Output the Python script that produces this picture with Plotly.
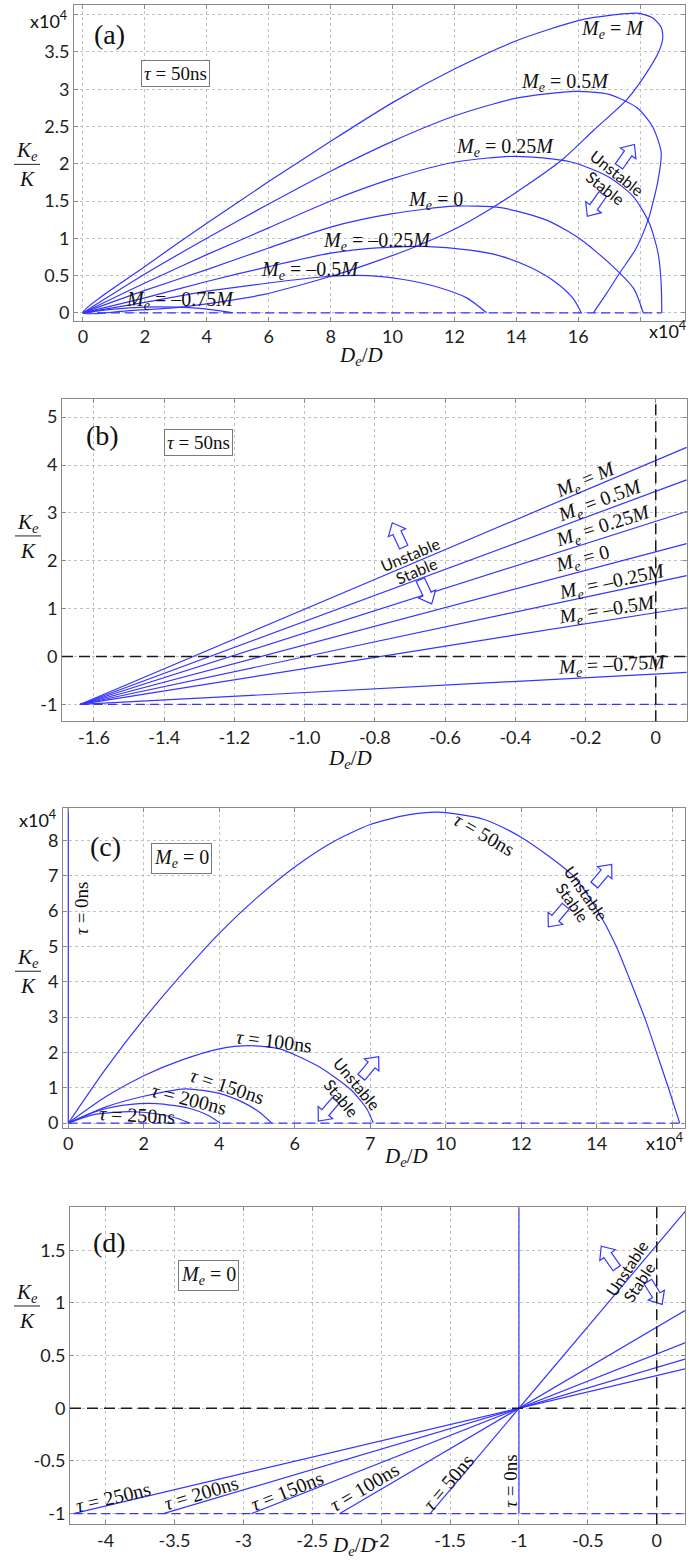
import math
import plotly.graph_objects as go

W, H = 689, 1566
BLUE = "#3535ff"
GRID = "#c2c2c2"
FRAME = "#8a8a8a"
SERIF = "Liberation Serif"
SANS = "Lato"

# ---------------- (a)  tau = 50 ns, K_e/K (x1e4) vs D_e/D (x1e4) ----------------
a_M_x = [0, 2, 4, 6, 8, 10, 12, 14, 16, 17.2, 17.9, 18.4, 18.68, 18.73,
         18.62, 18.3, 17.57, 16.5, 15.5, 14.3, 13.15, 12, 10.7, 9.4, 8.1, 7, 5.9, 4.5, 3, 1.5, 0]
a_M_y = [0, 0.62, 1.2, 1.76, 2.3, 2.82, 3.27, 3.65, 3.92, 4.0, 4.02, 3.96, 3.83, 3.68,
         3.52, 3.28, 2.86, 2.45, 2.06, 1.7, 1.39, 1.12, 0.88, 0.68, 0.5, 0.37, 0.25, 0.15, 0.07, 0.03, 0]
a_05M_x = [0, 2, 4, 6, 8, 10, 12, 14, 15.9, 17.0, 17.9, 18.4, 18.68, 18.58, 18.27, 17.85, 17.35, 16.9, 16.49]
a_05M_y = [0, 0.52, 1.0, 1.46, 1.9, 2.3, 2.64, 2.88, 2.97, 2.93, 2.75, 2.5, 2.15, 1.78, 1.26, 0.85, 0.54, 0.25, 0]
a_025M_x = [0, 2, 4, 6, 8, 10, 12, 14, 15.8, 17.0, 17.8, 18.3, 18.58, 18.68, 18.7]
a_025M_y = [0, 0.4, 0.78, 1.14, 1.5, 1.8, 2.02, 2.1, 2.02, 1.82, 1.55, 1.2, 0.8, 0.4, 0]
a_0_x = [0, 2, 4, 6, 8, 10, 12, 13.5, 15, 16.06, 17.1, 17.8, 18.1]
a_0_y = [0, 0.3, 0.58, 0.87, 1.15, 1.33, 1.43, 1.41, 1.24, 0.99, 0.63, 0.32, 0]
a_m025M_x = [0, 2, 4, 6, 8, 9.5, 11, 12.5, 13.5, 14.5, 15.3, 15.84, 16.1]
a_m025M_y = [0, 0.2, 0.42, 0.62, 0.8, 0.87, 0.89, 0.84, 0.76, 0.6, 0.4, 0.19, 0]
a_m05M_x = [0, 2, 4, 6, 8, 9.2, 10.3, 11.5, 12.4, 13.04]
a_m05M_y = [0, 0.14, 0.29, 0.4, 0.49, 0.5, 0.45, 0.34, 0.2, 0]
a_m075M_x = [0, 1, 2, 3, 4, 4.85]
a_m075M_y = [0, 0.05, 0.075, 0.075, 0.05, 0]
a_base_x = [0, 18.7]
a_base_y = [0, 0]

# ---------------- (b)  tau = 50 ns, straight boundaries ----------------
b_labels = ["<i>M</i>", "0.5<i>M</i>", "0.25<i>M</i>", "0", "–0.25<i>M</i>", "–0.5<i>M</i>", "–0.75<i>M</i>"]
b_x_start = -1.64
b_y_start = -1.0
b_x_end = 0.088
b_y_end = [4.37, 3.69, 3.03, 2.36, 1.69, 1.02, -0.33]
b_label_x = [-0.20, -0.16, -0.149, -0.21, -0.125, -0.14, -0.125]
b_label_y = [3.68, 3.24, 2.72, 2.03, 1.54, 0.96, -0.19]

# ---------------- (c)  M_e = 0, different tau ----------------
c_t50_x = [0, 1, 2, 3, 4, 5, 6, 7, 8, 9, 9.8, 11, 12, 13.4, 14.0, 14.5, 14.9, 15.3, 15.6, 15.9, 16.2]
c_t50_y = [0, 1.55, 2.94, 4.2, 5.37, 6.38, 7.25, 7.95, 8.45, 8.72, 8.8, 8.6, 8.09, 6.97, 6.05, 5.05, 4.0, 2.9, 1.95, 1.0, 0]
c_t100_x = [0, 1, 2, 3, 4, 4.8, 5.6, 6.6, 7.46, 7.9, 8.08]
c_t100_y = [0, 0.75, 1.34, 1.78, 2.1, 2.19, 2.1, 1.62, 0.97, 0.42, 0]
c_t150_x = [0, 1, 2, 3.1, 4.0, 4.6, 5.05, 5.39]
c_t150_y = [0, 0.46, 0.76, 0.97, 0.84, 0.6, 0.32, 0]
c_t200_x = [0, 0.8, 1.6, 2.34, 3.2, 3.7, 4.02]
c_t200_y = [0, 0.35, 0.52, 0.55, 0.42, 0.22, 0]
c_t250_x = [0, 0.6, 1.2, 1.72, 2.4, 2.9, 3.22]
c_t250_y = [0, 0.22, 0.3, 0.32, 0.25, 0.13, 0]
c_t0_x = [0, 0]
c_t0_y = [0, 8.92]
c_base_x = [0, 16.2]
c_base_y = [0, 0]

# ---------------- (d)  M_e = 0, straight boundaries ----------------
d_taus = ["250ns", "200ns", "150ns", "100ns", "50ns"]
d_x_start = [-4.233, -3.58, -2.94, -2.30, -1.645]
d_y_start = -1.0
d_x_end = 0.205
d_y_end = [0.373, 0.467, 0.621, 0.927, 1.867]
d_label_x = [-3.943, -3.308, -2.685, -2.124, -1.512]
d_label_y = [-0.839, -0.80, -0.787, -0.745, -0.70]

# ---------------- panel geometry (pixels on the page) ----------------
panels = {
    "a": dict(l=74, r=685, t=5, b=322, xr=[-0.29, 19.45], yr=[-0.107, 4.13]),
    "b": dict(l=62, r=687, t=401, b=724, xr=[-1.691, 0.089], yr=[-1.35, 5.37]),
    "c": dict(l=63, r=685, t=811, b=1132, xr=[-0.14, 16.34], yr=[-0.13, 8.92]),
    "d": dict(l=70, r=685, t=1212, b=1530, xr=[-4.258, 0.205], yr=[-1.10, 1.907]),
}
order = ["a", "b", "c", "d"]


def pap(xp, yp):
    return xp / W, 1 - yp / H


def px_scale(key):
    p = panels[key]
    sx = (p["r"] - p["l"]) / (p["xr"][1] - p["xr"][0])
    sy = (p["b"] - p["t"]) / (p["yr"][1] - p["yr"][0])
    return sx, sy


fig = go.Figure()


def add_line(k, xs, ys, dash="solid", color=BLUE, width=1.2, smooth=True):
    i = order.index(k) + 1
    sfx = "" if i == 1 else str(i)
    fig.add_trace(go.Scatter(
        x=xs, y=ys, mode="lines", xaxis="x" + sfx, yaxis="y" + sfx,
        line=dict(color=color, width=width, dash=dash,
                  shape="spline" if smooth else "linear", smoothing=0.7),
        showlegend=False, hoverinfo="skip"))


# (a)
for xs, ys in [(a_M_x, a_M_y), (a_05M_x, a_05M_y), (a_025M_x, a_025M_y), (a_0_x, a_0_y),
               (a_m025M_x, a_m025M_y), (a_m05M_x, a_m05M_y), (a_m075M_x, a_m075M_y)]:
    add_line("a", xs, ys)
add_line("a", a_base_x, a_base_y, dash="9px,5px", smooth=False)

# (b)
for ye in b_y_end:
    add_line("b", [b_x_start, b_x_end], [b_y_start, ye], smooth=False)
add_line("b", [b_x_start, b_x_end], [b_y_start, b_y_start], dash="9px,5px", smooth=False)

# (c)
for xs, ys in [(c_t50_x, c_t50_y), (c_t100_x, c_t100_y), (c_t150_x, c_t150_y),
               (c_t200_x, c_t200_y), (c_t250_x, c_t250_y)]:
    add_line("c", xs, ys)
add_line("c", c_t0_x, c_t0_y, smooth=False)
add_line("c", c_base_x, c_base_y, dash="9px,5px", smooth=False)

# (d)
for xs0, ye in zip(d_x_start, d_y_end):
    add_line("d", [xs0, d_x_end], [d_y_start, ye], smooth=False)
add_line("d", [-1, -1], [d_y_start, 1.907], smooth=False)
add_line("d", [d_x_start[0], d_x_end], [d_y_start, d_y_start], dash="9px,5px", smooth=False)

# ---------------- axes ----------------
ticks = {
    "a": dict(xv=[0, 2, 4, 6, 8, 10, 12, 14, 16, 18],
              xt=["0", "2", "4", "6", "8", "10", "12", "14", "16", ""],
              yv=[0, 0.5, 1, 1.5, 2, 2.5, 3, 3.5, 4],
              yt=["0", "0.5", "1", "1.5", "2", "2.5", "3", "3.5", ""]),
    "b": dict(xv=[-1.6, -1.4, -1.2, -1.0, -0.8, -0.6, -0.4, -0.2, 0],
              xt=["-1.6", "-1.4", "-1.2", "-1.0", "-0.8", "-0.6", "-0.4", "-0.2", "0"],
              yv=[-1, 0, 1, 2, 3, 4, 5],
              yt=["-1", "0", "1", "2", "3", "4", "5"]),
    "c": dict(xv=[0, 2, 4, 6, 8, 10, 12, 14, 16],
              xt=["0", "2", "4", "6", "7", "10", "12", "14", ""],
              yv=[0, 1, 2, 3, 4, 5, 6, 7, 8],
              yt=["0", "1", "2", "3", "4", "5", "6", "7", "8"]),
    "d": dict(xv=[-4, -3.5, -3, -2.5, -2, -1.5, -1, -0.5, 0],
              xt=["-4", "-3.5", "-3", "-2.5", "-2", "-1.5", "-1", "-0.5", "0"],
              yv=[-1, -0.5, 0, 0.5, 1, 1.5],
              yt=["-1", "-0.5", "0", "0.5", "1", "1.5"]),
}

layout_axes = {}
tickfont = dict(family=SANS, size=18, color="#1e1e1e")
for i, k in enumerate(order, start=1):
    p = panels[k]
    t = ticks[k]
    sfx = "" if i == 1 else str(i)
    common = dict(showgrid=True, gridcolor=GRID, griddash="dot", gridwidth=1,
                  showline=True, linecolor=FRAME, linewidth=1, mirror="ticks",
                  ticks="inside", ticklen=4, tickcolor=FRAME, zeroline=False,
                  tickfont=tickfont, fixedrange=True)
    layout_axes["xaxis" + sfx] = dict(
        common, domain=[p["l"] / W, p["r"] / W], range=p["xr"],
        tickvals=t["xv"], ticktext=t["xt"], anchor="y" + sfx, tickangle=0)
    layout_axes["yaxis" + sfx] = dict(
        common, domain=[1 - p["b"] / H, 1 - p["t"] / H], range=p["yr"],
        tickvals=t["yv"], ticktext=t["yt"], anchor="x" + sfx)

fig.update_layout(**layout_axes)

# ---------------- annotations ----------------
ann = []
shapes = []


def ref(k):
    i = order.index(k) + 1
    sfx = "" if i == 1 else str(i)
    return "x" + sfx, "y" + sfx


def text_at(k, x, y, txt, size=19, family=SERIF, angle=0, color="#111", box=False):
    xr, yr = ref(k)
    d = dict(x=x, y=y, xref=xr, yref=yr, text=txt, showarrow=False,
             font=dict(family=family, size=size, color=color), textangle=angle,
             xanchor="center", yanchor="middle")
    if box:
        d.update(bordercolor="#7a7a7a", borderwidth=1, borderpad=2, bgcolor="white")
    ann.append(d)


def paper_text(xp, yp, txt, size=19, family=SERIF, color="#111"):
    x, y = pap(xp, yp)
    ann.append(dict(x=x, y=y, xref="paper", yref="paper", text=txt, showarrow=False,
                    font=dict(family=family, size=size, color=color),
                    xanchor="center", yanchor="middle"))


def frac_label(xc, ytop):
    paper_text(xc, ytop, "<i>K<sub>e</sub></i>", size=21)
    paper_text(xc, ytop + 28, "<i>K</i>", size=21)
    x0, y0 = pap(xc - 13, ytop + 13)
    x1, _ = pap(xc + 13, ytop + 13)
    shapes.append(dict(type="line", xref="paper", yref="paper", x0=x0, x1=x1, y0=y0, y1=y0,
                       line=dict(color="#222", width=1)))


def hollow_arrow(cx, cy, heading, length=27, head_w=19, shaft_w=9, head_l=11):
    """Outlined block arrow centred at page pixel (cx, cy); heading in degrees clockwise from up."""
    a = math.radians(heading)
    ux, uy = math.sin(a), -math.cos(a)      # along the arrow (pixel space, y down)
    vx, vy = -uy, ux                        # across the arrow
    half = length / 2
    local = [(-half, -shaft_w / 2), (half - head_l, -shaft_w / 2), (half - head_l, -head_w / 2),
             (half, 0), (half - head_l, head_w / 2), (half - head_l, shaft_w / 2),
             (-half, shaft_w / 2)]
    pts = []
    for s, t in local:
        xp = cx + s * ux + t * vx
        yp = cy + s * uy + t * vy
        pts.append(pap(xp, yp))
    path = "M " + " L ".join(f"{x:.5f},{y:.5f}" for x, y in pts) + " Z"
    shapes.append(dict(type="path", xref="paper", yref="paper", path=path,
                       line=dict(color=BLUE, width=1.2), fillcolor="white", layer="above"))


def me(v):
    return "<i>M<sub>e</sub></i> = " + v


def line_angle(k, dx, dy):
    sx, sy = px_scale(k)
    return -math.degrees(math.atan2(dy * sy, dx * sx))


# panel (a)
text_at("a", 0.87, 3.73, "(a)", size=28)
text_at("a", 2.99, 3.21, "<i>τ</i> = 50ns", size=19, box=True)
a_lab = [(17.1, 3.8, "<i>M</i>"), (15.56, 3.09, "0.5<i>M</i>"), (13.63, 2.22, "0.25<i>M</i>"),
         (11.4, 1.51, "0"), (9.49, 0.96, "–0.25<i>M</i>"), (7.33, 0.57, "–0.5<i>M</i>"),
         (3.13, 0.16, "–0.75<i>M</i>")]
for x, y, v in a_lab:
    text_at("a", x, y, me(v), size=20)
text_at("a", 17.24, 1.88, "Unstable", size=16, family=SANS, angle=38)
text_at("a", 16.87, 1.68, "Stable", size=16, family=SANS, angle=38)
hollow_arrow(626.7, 156, 35)
hollow_arrow(595, 206, 215)
paper_text(48, 20, "x10<sup>4</sup>", size=18, family=SANS)
paper_text(667, 331, "x10<sup>4</sup>", size=18, family=SANS)
paper_text(361, 357, "<i>D<sub>e</sub></i>/<i>D</i>", size=21)
frac_label(27, 152)

# panel (b)
text_at("b", -1.575, 4.61, "(b)", size=28)
text_at("b", -1.303, 4.47, "<i>τ</i> = 50ns", size=19, box=True)
for lab, lx, ly, ye in zip(b_labels, b_label_x, b_label_y, b_y_end):
    ang = line_angle("b", b_x_end - b_x_start, ye - b_y_start)
    text_at("b", lx, ly, me(lab), size=20, angle=ang)
text_at("b", -0.70, 2.13, "Unstable", size=16, family=SANS, angle=-23)
text_at("b", -0.681, 1.79, "Stable", size=16, family=SANS, angle=-23)
hollow_arrow(398, 537, -25)
hollow_arrow(426, 594, 155)
paper_text(350, 762, "<i>D<sub>e</sub></i>/<i>D</i>", size=21)
frac_label(28, 525)

# panel (c)
text_at("c", 0.99, 7.83, "(c)", size=28)
text_at("c", 2.99, 7.49, me("0"), size=20, box=True)
text_at("c", 0.355, 6.08, "<i>τ</i> = 0ns", size=19, angle=-90)
text_at("c", 11.01, 8.17, "<i>τ</i> = 50ns", size=20, angle=30)
text_at("c", 5.45, 2.33, "<i>τ</i> = 100ns", size=20, angle=7)
text_at("c", 4.2, 1.04, "<i>τ</i> = 150ns", size=20, angle=18)
text_at("c", 3.2, 0.67, "<i>τ</i> = 200ns", size=20, angle=14)
text_at("c", 1.81, 0.22, "<i>τ</i> = 250ns", size=20, angle=3)
text_at("c", 13.73, 6.5, "Unstable", size=16, family=SANS, angle=55)
text_at("c", 13.37, 6.24, "Stable", size=16, family=SANS, angle=55)
hollow_arrow(603, 878, 40)
hollow_arrow(557, 920, 220)
text_at("c", 7.65, 1.12, "Unstable", size=16, family=SANS, angle=50)
text_at("c", 7.23, 0.72, "Stable", size=16, family=SANS, angle=50)
hollow_arrow(370, 1071, 40)
hollow_arrow(327, 1115, 220)
paper_text(37, 822, "x10<sup>4</sup>", size=18, family=SANS)
paper_text(664, 1146, "x10<sup>4</sup>", size=18, family=SANS)
paper_text(406, 1161, "<i>D<sub>e</sub></i>/<i>D</i>", size=21)
frac_label(28, 962)

# panel (d)
text_at("d", -3.975, 1.57, "(d)", size=28)
text_at("d", -3.251, 1.258, me("0"), size=20, box=True)
for tau, lx, ly, xs0, ye in zip(d_taus, d_label_x, d_label_y, d_x_start, d_y_end):
    ang = line_angle("d", d_x_end - xs0, ye - d_y_start)
    text_at("d", lx, ly, "<i>τ</i> = " + tau, size=20, angle=ang)
text_at("d", -1.057, -0.697, "<i>τ</i> = 0ns", size=19, angle=-90)
text_at("d", -0.218, 1.325, "Unstable", size=16, family=SANS, angle=-57)
text_at("d", -0.134, 1.198, "Stable", size=16, family=SANS, angle=-57)
hollow_arrow(609, 1262, -35)
hollow_arrow(655, 1298, 148)
paper_text(354, 1552, "<i>D<sub>e</sub></i>/<i>D</i>", size=21)
frac_label(27, 1298)

# black dashed reference axes in (b) and (d)
for k in ["b", "d"]:
    xr, yr = ref(k)
    shapes.append(dict(type="line", xref=xr + " domain", yref=yr, x0=0, x1=1, y0=0, y1=0,
                       line=dict(color="#1a1a1a", width=1.5, dash="11px,6px")))
    shapes.append(dict(type="line", xref=xr, yref=yr + " domain", x0=0, x1=0, y0=0, y1=1,
                       line=dict(color="#1a1a1a", width=1.5, dash="11px,6px")))

fig.update_layout(
    width=W, height=H, margin=dict(l=0, r=0, t=0, b=0),
    paper_bgcolor="white", plot_bgcolor="white",
    annotations=ann, shapes=shapes, showlegend=False,
)

fig.write_html("out.html")
